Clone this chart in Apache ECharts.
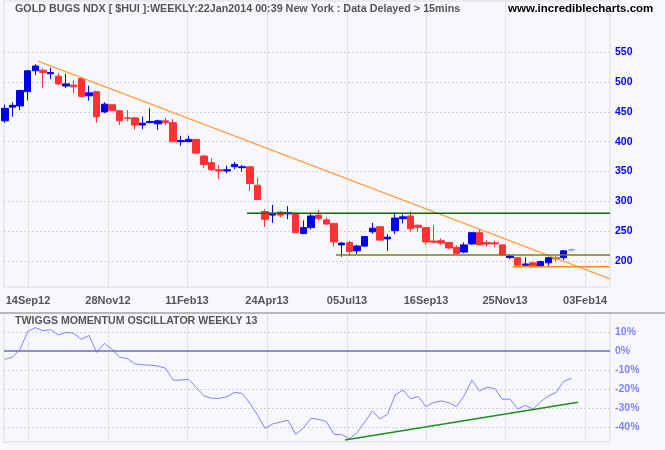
<!DOCTYPE html>
<html><head><meta charset="utf-8">
<script src="https://cdn.jsdelivr.net/npm/echarts@6/dist/echarts.min.js"></script>
<style>html,body{margin:0;padding:0;background:#f7f8fd}#c{width:665px;height:450px}</style>
</head><body><div id="c"></div>
<script>
// Weekly candles, index 0 = week of 24Aug2012 ... index 74 = week of 20Jan2014
const opens  = [435,458,460,484,519,520,514,510,493.5,495,506,477,484,450,462,452,440,440,428,432,430,435,432,400,400,404,376,365,353,351,358,356.5,358,327,283,277,282,279,280,246,256,277,269,263,227,231,217,225,249,257.5,237,251,271,275.5,260,256,233.5,234,231,223,215,228.5,247.5,231,230.5,227,206,205.5,193,197,190.5,197,205.5,205.5,218];
const closes = [456,461,486,519,527,516,516,497,497,492,476,482,442,463,452,435,439,428,431,434,435,432,400,402,404,381,362,353,351,353,362,358,330,303,270,280,277,281,247.5,256,275.5,271,262,232,230,216,225,241,255,235,240,272,274,254,256.5,232,231.4,230,222,212,227,247.5,227,228.5,228.5,210,208.5,193,195,190.5,199,205.5,203.5,217,219.5];
const lows   = [432,442,453,469,512,490,505,495,490,481,475,469,432,448,452,428,434,420,421,431,420,428,400,393,400,379,356,351,337,347,354,350,318,303,257,264,273,270,247,246,253,267.6,260,224,207,209,212,224,246,235,217,245,263,249,249,227,230,227,220,211,213,228,227,224,223,210,203,193,192,190,190,192,199,201.5,215.6];
const highs  = [462,466,487,520,530,523,524,515,514,503,509,494,485,466,462,453,453,442,442,456,437,440,438,410,410,404,378,372,361,360,366,361,358,340,287,294,284,292,280,268,279,285.5,273,264,232,234,227,242,264,257.5,245,282,278,283,261,256,260,238,232,226,231,248,253,235,234,227,211,206,206,199,200.5,207,209,218.5,221];
// Twiggs Momentum Oscillator (13 week), percent
const osc = [-4.4,-3.3,1,10.2,12.3,10.7,11.2,8.4,9.8,9.3,6.1,8.2,-0.7,4,1,-3.3,-4,-6.8,-7.2,-7.5,-7.9,-9.1,-15.4,-15.3,-14.9,-19.1,-23.5,-24.9,-24.9,-24,-21.8,-22.3,-27.5,-33.7,-40.7,-38.4,-37.4,-36.5,-43.9,-40.5,-35.4,-36,-37.1,-43.9,-43.9,-46.3,-43,-37.5,-31.6,-35.8,-33.2,-23.2,-20.5,-25.1,-23.9,-29.3,-27.2,-26.3,-27.2,-29.3,-23.5,-15.3,-21,-19.1,-19.8,-25.4,-25.3,-30.5,-28.6,-30.5,-26.7,-23.7,-21.9,-16,-14.4];
// x-axis tick labels and their positions (in week-index units)
const xTickPos = [3.03,13.48,23.8,34.25,44.7,55.02,65.34,75.8];
const xTickLabels = ['14Sep12','28Nov12','11Feb13','24Apr13','05Jul13','16Sep13','25Nov13','03Feb14'];
const priceTicks = [200,250,300,350,400,450,500,550];
const oscTicks = [-40,-30,-20,-10,0,10];
// drawn trend / support lines [weekIndex, value]
const trendDown = [[4.34,535],[79.05,170.2]];
const resist280 = [[31.64,280],[79.05,280]];
const support210 = [[43.26,210],[79.05,210]];
const support190 = [[66.34,190.5],[79.05,190.5]];
const oscTrend = [[44.44,-46.8],[74.87,-27]];

const XMIN = -0.1, XMAX = 79.05;
const chart = echarts.init(document.getElementById('c'), null, {renderer:'canvas'});
const last = opens.length - 1;
const candles = opens.map((o,i)=>{
  const v = [i, o, closes[i], lows[i], highs[i]];
  if (i === last) return {value:v, itemStyle:{color:'#a0a0f8',color0:'#a0a0f8',borderColor:'#a0a0f8',borderColor0:'#a0a0f8'}};
  return v;
});
const oscData = osc.map((v,i)=>[i,v]);
const fmtX = v => { for (let k=0;k<xTickPos.length;k++) if (Math.abs(xTickPos[k]-v)<1e-6) return xTickLabels[k]; return ''; };
const lblFont = {fontFamily:'Liberation Sans', fontWeight:'bold'};
const lineSeries = (data, color, width, xi, yi) => ({type:'line', data, xAxisIndex:xi, yAxisIndex:yi, showSymbol:false, silent:true, animation:false, lineStyle:{color, width}, z:3});

chart.setOption({
  animation:false,
  backgroundColor:'#f7f8fd',
  title:[
    {text:'GOLD BUGS NDX [ $HUI ]:WEEKLY:22Jan2014 00:39 New York : Data Delayed > 15mins', left:15, top:4, padding:0,
     textStyle:{fontFamily:'Liberation Sans', fontWeight:'bold', fontSize:10.75, color:'#555'}},
    {text:'www.incrediblecharts.com', left:508, top:3, padding:0,
     textStyle:{fontFamily:'Liberation Sans', fontWeight:'bold', fontSize:11.5, color:'#000'}},
    {text:'TWIGGS MOMENTUM OSCILLATOR WEEKLY 13', left:15, top:316, padding:0,
     textStyle:{fontFamily:'Liberation Sans', fontWeight:'bold', fontSize:10.6, color:'#555'}}
  ],
  graphic:[{type:'line', shape:{x1:0,y1:313,x2:665,y2:313}, style:{stroke:'#a8a8a8', lineWidth:1.5}, silent:true, z:10}],
  grid:[
    {left:4, right:55, top:1, bottom:163, show:true, borderColor:'#dcdcdc', borderWidth:1, backgroundColor:'transparent'},
    {left:4, right:55, top:313, bottom:8, show:true, borderColor:'#dcdcdc', borderWidth:1, backgroundColor:'transparent'}
  ],
  xAxis:[
    {type:'value', gridIndex:0, min:XMIN, max:XMAX, axisLine:{show:false},
     axisTick:{show:false, customValues:xTickPos},
     axisLabel:{customValues:xTickPos, formatter:fmtX, color:'#555', fontSize:11, margin:8, ...lblFont},
     splitLine:{show:true, lineStyle:{color:'#e2e2e2', width:1}}},
    {type:'value', gridIndex:1, min:XMIN, max:XMAX, axisLine:{show:false},
     axisTick:{show:false, customValues:xTickPos},
     axisLabel:{show:false, customValues:xTickPos},
     splitLine:{show:true, lineStyle:{color:'#e2e2e2', width:1}}}
  ],
  yAxis:[
    {type:'value', gridIndex:0, position:'right', min:156.4, max:636, axisLine:{show:false},
     axisTick:{show:false, customValues:priceTicks},
     axisLabel:{customValues:priceTicks, color:'#0000ee', fontSize:10.5, margin:5, ...lblFont},
     splitLine:{show:true, lineStyle:{color:'#d2d2d2', type:[2,2], width:1}}},
    {type:'value', gridIndex:1, position:'right', min:-47.9, max:20, axisLine:{show:false},
     axisTick:{show:false, customValues:oscTicks},
     axisLabel:{customValues:oscTicks, formatter:'{value}%', color:'#8080ff', fontSize:10.5, margin:5, ...lblFont},
     splitLine:{show:true, lineStyle:{color:'#d2d2d2', type:[2,2], width:1}}}
  ],
  series:[
    {type:'candlestick', xAxisIndex:0, yAxisIndex:0, data:candles, encode:{x:0, y:[1,2,3,4]},
     barWidth:7, clip:false, silent:true,
     itemStyle:{color:'#0000ee', color0:'#ff3333', borderColor:'#0000ee', borderColor0:'#ff3333', borderWidth:1}, z:2},
    lineSeries(trendDown, '#ffa040', 1.3, 0, 0),
    lineSeries(resist280, '#0b6b0b', 1.5, 0, 0),
    lineSeries(support210, '#7f7f10', 1.5, 0, 0),
    lineSeries(support190, '#ff8c1a', 1.5, 0, 0),
    {type:'line', xAxisIndex:1, yAxisIndex:1, data:oscData, showSymbol:false, silent:true,
     lineStyle:{color:'#8080ff', width:1}, z:3,
     markLine:{silent:true, symbol:'none', label:{show:false}, lineStyle:{color:'#7070c0', width:1.5, type:'solid'}, data:[{yAxis:0}]}},
    lineSeries(oscTrend, '#1f8f1f', 1.5, 1, 1)
  ]
});
</script></body></html>
